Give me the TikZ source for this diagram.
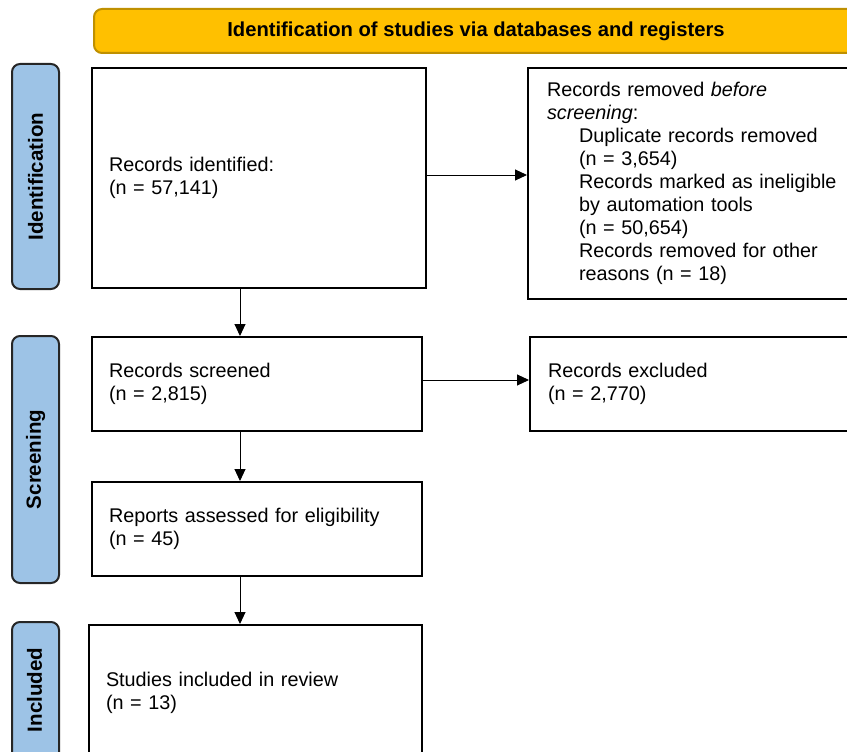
\documentclass[tikz,border=0pt]{standalone}
\usepackage{fontspec}
\setmainfont{Liberation Sans}
\usetikzlibrary{arrows.meta}
\definecolor{headgold}{HTML}{FFC000}
\definecolor{headedge}{HTML}{BF9000}
\definecolor{sideblue}{HTML}{9DC3E6}
\tikzset{
  box/.style={draw=black, line width=2pt, rectangle, inner xsep=17pt, align=left,
    font=\fontsize{19.8}{23}\selectfont},
  sidebar/.style={draw=black!85, line width=2pt, fill=sideblue, rounded corners=8pt,
    rectangle, minimum width=47pt, inner sep=0pt},
  sidelabel/.style={rotate=90, font=\fontsize{20.5}{23}\selectfont\bfseries},
  flow/.style={line width=1pt, -{Triangle[length=12pt,width=11pt]}}
}
\begin{document}
\begin{tikzpicture}[x=1pt, y=-1pt]
\useasboundingbox (0,0) rectangle (847,752);
% Header
    \node[draw=headedge, line width=2pt, fill=headgold, rounded corners=8pt,
      minimum width=764pt, minimum height=44pt, anchor=north west,
      font=\fontsize{20.2}{23}\selectfont\bfseries] (head) at (93,8)
      {Identification of studies via databases and registers};
% Side bars
    \node[sidebar, minimum height=225pt, anchor=north west] (sideid) at (11,63) {};
    \node[sidelabel] at (sideid.center) {Identification};
    \node[sidebar, minimum height=247pt, anchor=north west] (sidescr) at (11,335) {};
    \node[sidelabel] at (sidescr.center) {Screening};
    \node[sidebar, minimum height=170pt, anchor=north west] (sideinc) at (11,621) {};
    \node[sidelabel] at (11+23.5,690) {Included};
% Boxes
    \node[box, text width=300pt, minimum height=220pt, anchor=north west] (ident) at (91,67)
      {Records identified:\\(n = 57,141)};
    \node[box, inner xsep=19pt, text width=300pt, minimum height=231pt, anchor=north west] (removed) at (527,67)
      {Records removed \textit{before}\\\textit{screening}:\\
       \hspace*{32pt}Duplicate records removed\\
       \hspace*{32pt}(n = 3,654)\\
       \hspace*{32pt}Records marked as ineligible\\
       \hspace*{32pt}by automation tools\\
       \hspace*{32pt}(n = 50,654)\\
       \hspace*{32pt}Records removed for other\\
       \hspace*{32pt}reasons (n = 18)};
    \node[box, text width=296pt, minimum height=94pt, anchor=north west] (screened) at (91,336)
      {Records screened\\(n = 2,815)};
    \node[box, inner xsep=18pt, text width=300pt, minimum height=94pt, anchor=north west] (excluded) at (529,336)
      {Records excluded\\(n = 2,770)};
    \node[box, text width=296pt, minimum height=94pt, anchor=north west] (assessed) at (91,481)
      {Reports assessed for eligibility\\(n = 45)};
    \node[box, text width=299pt, minimum height=136pt, anchor=north west] (included) at (88,624)
      {Studies included in review\\(n = 13)};
% Arrows
    \draw[flow] (ident.east |- 0,175) -- (removed.west |- 0,175);
    \draw[flow] (screened.east |- 0,380) -- (excluded.west |- 0,380);
    \draw[flow] (240,287) -- (240,336);
    \draw[flow] (240,430) -- (240,481);
    \draw[flow] (240,575) -- (240,624);
\end{tikzpicture}
\end{document}
